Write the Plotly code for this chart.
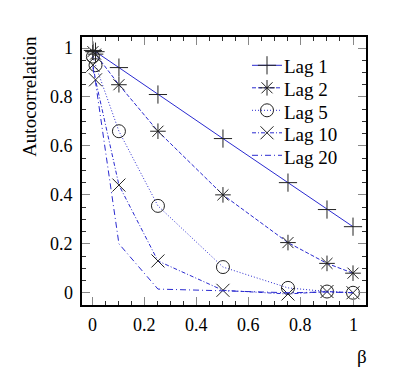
import plotly.graph_objects as go

beta = [0, 0.01, 0.1, 0.25, 0.5, 0.75, 0.9, 1.0]

lag1 = [0.99, 0.985, 0.92, 0.81, 0.63, 0.45, 0.34, 0.27]
lag2 = [0.985, 0.975, 0.85, 0.66, 0.40, 0.205, 0.12, 0.08]
lag5 = [0.965, 0.93, 0.66, 0.355, 0.105, 0.02, 0.005, 0.0]
lag10 = [0.93, 0.87, 0.44, 0.13, 0.01, -0.005, 0.005, 0.0]
lag20 = [0.92, 0.86, 0.20, 0.015, 0.008, 0.0, 0.003, 0.0]

tick_vals = [0, 0.2, 0.4, 0.6, 0.8, 1.0]
tick_labels = ['0', '0.2', '0.4', '0.6', '0.8', '1']

series = [
    ('Lag 1', lag1, 'solid', 'cross-thin-open'),
    ('Lag 2', lag2, '4px,2px', 'asterisk-open'),
    ('Lag 5', lag5, '1px,2px', 'circle-open'),
    ('Lag 10', lag10, '4px,2px,1px,2px', 'x-thin-open'),
    ('Lag 20', lag20, '6px,3px,1px,3px', None),
]

FONT = 'Liberation Serif'
BLUE = '#2a2ad0'
INK = '#222222'

fig = go.Figure()
for name, vals, dash, symbol in series:
    # legend entries only carry the symbol; the serif labels are annotations
    if symbol:
        fig.add_trace(go.Scatter(
            x=beta, y=vals, name=' ', legendgroup=name, mode='lines+markers',
            line=dict(color=BLUE, width=1, dash=dash),
            marker=dict(symbol=symbol, size=13, color=INK,
                        line=dict(color=INK, width=1)),
        ))
    else:
        fig.add_trace(go.Scatter(
            x=beta, y=vals, name=' ', legendgroup=name, mode='lines',
            line=dict(color=BLUE, width=1, dash=dash),
        ))

axis_common = dict(
    showline=True, linecolor='black', linewidth=1.5, mirror='allticks',
    ticks='inside', ticklen=8, tickcolor='#888888', tickwidth=1,
    showgrid=False, zeroline=False, showticklabels=False,
    tickmode='array', tickvals=tick_vals,
    minor=dict(ticks='inside', ticklen=4, tickcolor='#333333',
               tickmode='linear', tick0=0, dtick=0.05),
)

fig.update_xaxes(range=[-0.042, 1.05], **axis_common)
fig.update_yaxes(range=[-0.05, 1.045], **axis_common)

tfont = dict(family=FONT, size=18, color='black')
for v, lab in zip(tick_vals, tick_labels):
    fig.add_annotation(text=lab, x=v, xref='x', y=0, yref='paper',
                       xanchor='center', yanchor='middle', yshift=-20,
                       showarrow=False, font=tfont)
    fig.add_annotation(text=lab, x=0, xref='paper', y=v, yref='y',
                       xanchor='right', yanchor='middle', xshift=-7,
                       showarrow=False, font=tfont)

lfont = dict(family=FONT, size=19, color='black')
for i, (name, _, _, _) in enumerate(series):
    fig.add_annotation(text=name, xref='paper', yref='paper',
                       x=0.705, y=0.889 - i * 0.0845,
                       xanchor='left', yanchor='middle',
                       showarrow=False, font=lfont)

fig.add_annotation(text='Autocorrelation', xref='paper', yref='paper',
                   x=-0.183, y=1.01, xanchor='center', yanchor='top',
                   textangle=-90, showarrow=False, font=lfont)
fig.add_annotation(text='β', xref='paper', yref='paper',
                   x=0.985, y=-0.145, xanchor='center', yanchor='top',
                   showarrow=False, font=lfont)

# page body has an 8px margin, so the figure is a bit smaller than the window
fig.update_layout(
    template='none',
    width=399, height=374,
    margin=dict(l=74, r=41, t=29, b=77),
    paper_bgcolor='white', plot_bgcolor='white',
    font=dict(family=FONT, size=18, color='black'),
    legend=dict(x=0.581, y=0.955, xanchor='left', yanchor='top',
                bgcolor='rgba(0,0,0,0)', itemwidth=30, tracegroupgap=0,
                font=dict(family=FONT, size=15, color='black')),
    showlegend=True,
)

fig.write_html("out.html")
